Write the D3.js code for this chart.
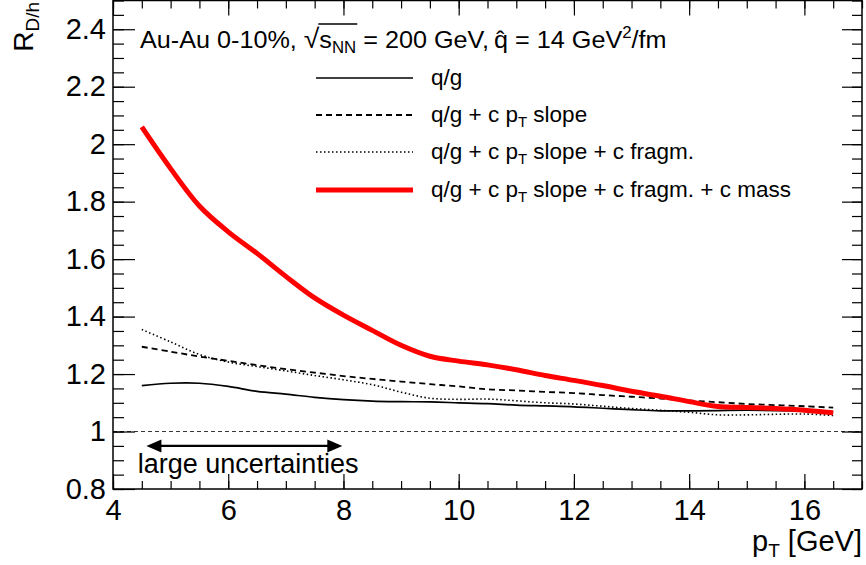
<!DOCTYPE html>
<html>
<head>
<meta charset="utf-8">
<script src="https://cdn.jsdelivr.net/npm/d3@7"></script>
<style>
  body { margin: 0; background: #fff; }
  svg { display: block; font-family: "Liberation Sans", Arial, Helvetica, sans-serif; }
  .axis path, .axis line { stroke: #000; }
</style>
</head>
<body>
<svg id="chart" width="866" height="565"></svg>
<script>
// ---- Dados
const pT = [4.5, 5, 5.5, 6, 6.5, 7, 7.5, 8, 8.5, 9, 9.5, 10, 10.5, 11, 11.5, 12, 12.5, 13, 13.5, 14, 14.5, 15, 15.5, 16, 16.5];
const rQG    = [1.160, 1.168, 1.168, 1.157, 1.140, 1.130, 1.119, 1.111, 1.106, 1.104, 1.103, 1.100, 1.097, 1.092, 1.089, 1.086, 1.081, 1.076, 1.072, 1.072, 1.073, 1.074, 1.073, 1.071, 1.066];
const rSlope = [1.295, 1.278, 1.261, 1.246, 1.231, 1.217, 1.205, 1.193, 1.183, 1.174, 1.165, 1.157, 1.147, 1.143, 1.138, 1.134, 1.127, 1.121, 1.115, 1.108, 1.102, 1.096, 1.092, 1.088, 1.083];
const rFragm = [1.355, 1.312, 1.268, 1.242, 1.226, 1.211, 1.195, 1.180, 1.163, 1.137, 1.116, 1.112, 1.113, 1.107, 1.100, 1.096, 1.088, 1.080, 1.074, 1.067, 1.058, 1.058, 1.060, 1.061, 1.056];
const rMass  = [2.060, 1.915, 1.785, 1.695, 1.620, 1.540, 1.465, 1.405, 1.352, 1.300, 1.262, 1.245, 1.232, 1.215, 1.195, 1.178, 1.160, 1.140, 1.123, 1.104, 1.087, 1.084, 1.080, 1.074, 1.065];

const xTicks = [4, 6, 8, 10, 12, 14, 16];
const yTicks = [0.8, 1, 1.2, 1.4, 1.6, 1.8, 2, 2.2, 2.4];
const legendLabels = ['q/g', 'q/g + c p_T slope', 'q/g + c p_T slope + c fragm.', 'q/g + c p_T slope + c fragm. + c mass'];
const arrowRange = [4.58, 7.98];

// ---- Margens / tamanho
const svg = d3.select('#chart');
const margens = { left: 113, right: 4, top: 0.5, bottom: 76 };
const W = 866, H = 565;

const mapX = d3.scaleLinear().domain([4, 17]).range([margens.left, W - margens.right]);
const mapY = d3.scaleLinear().domain([0.8, 2.5]).range([H - margens.bottom, margens.top]);

const fmt = d => String(+d.toFixed(1));

// ---- Eixos (ticks para dentro, estilo ROOT)
const minorX = d3.range(4, 17.001, 0.5);
const minorY = d3.range(0.8, 2.5001, 0.05);

svg.append('g').attr('class', 'axis')
    .attr('transform', `translate(0, ${mapY(0.8)})`)
    .call(d3.axisBottom(mapX).tickValues(minorX).tickSize(-8).tickFormat(''))
    .call(g => g.select('.domain').remove());
svg.append('g').attr('class', 'axis')
    .attr('transform', `translate(0, ${mapY(0.8)})`)
    .call(d3.axisBottom(mapX).tickValues(xTicks).tickSize(-15).tickPadding(10).tickFormat(fmt))
    .call(g => g.select('.domain').remove())
    .call(g => g.selectAll('text').attr('font-size', 29).attr('fill', '#000'));

svg.append('g').attr('class', 'axis')
    .attr('transform', `translate(0, ${mapY(2.5)})`)
    .call(d3.axisTop(mapX).tickValues(minorX).tickSize(-8).tickFormat(''))
    .call(g => g.select('.domain').remove());
svg.append('g').attr('class', 'axis')
    .attr('transform', `translate(0, ${mapY(2.5)})`)
    .call(d3.axisTop(mapX).tickValues(xTicks).tickSize(-15).tickFormat(''))
    .call(g => g.select('.domain').remove());

svg.append('g').attr('class', 'axis')
    .attr('transform', `translate(${mapX(4)}, 0)`)
    .call(d3.axisLeft(mapY).tickValues(minorY).tickSize(-11).tickFormat(''))
    .call(g => g.select('.domain').remove());
svg.append('g').attr('class', 'axis')
    .attr('transform', `translate(${mapX(4)}, 0)`)
    .call(d3.axisLeft(mapY).tickValues(yTicks).tickSize(-22).tickPadding(7).tickFormat(fmt))
    .call(g => g.select('.domain').remove())
    .call(g => g.selectAll('text').attr('font-size', 29).attr('fill', '#000'));

svg.append('g').attr('class', 'axis')
    .attr('transform', `translate(${mapX(17)}, 0)`)
    .call(d3.axisRight(mapY).tickValues(minorY).tickSize(-10).tickFormat(''))
    .call(g => g.select('.domain').remove());
svg.append('g').attr('class', 'axis')
    .attr('transform', `translate(${mapX(17)}, 0)`)
    .call(d3.axisRight(mapY).tickValues(yTicks).tickSize(-20).tickFormat(''))
    .call(g => g.select('.domain').remove());

svg.selectAll('.axis line').attr('stroke-width', 1.2);

// moldura
svg.append('rect')
    .attr('x', mapX(4)).attr('y', mapY(2.5))
    .attr('width', mapX(17) - mapX(4)).attr('height', mapY(0.8) - mapY(2.5))
    .attr('fill', 'none').attr('stroke', '#000').attr('stroke-width', 1.5);

// ---- Linha de referência em 1
svg.append('line')
    .attr('x1', mapX(4)).attr('x2', mapX(17))
    .attr('y1', mapY(1)).attr('y2', mapY(1))
    .attr('stroke', '#000').attr('stroke-width', 0.8).attr('stroke-dasharray', '4,3');

// ---- Curvas
const series = [
    { vals: rQG,    color: '#000', width: 1.7, dash: null },
    { vals: rSlope, color: '#000', width: 1.8, dash: '6,4' },
    { vals: rFragm, color: '#000', width: 1.6, dash: '1.5,2.5' },
    { vals: rMass,  color: '#ff0000', width: 5, dash: null }
];

const line = d3.line()
    .x((d, i) => mapX(pT[i]))
    .y(d => mapY(d))
    .curve(d3.curveCatmullRom.alpha(0.5));

svg.append('g').selectAll('path')
    .data(series)
    .join('path')
    .attr('d', s => line(s.vals))
    .attr('fill', 'none')
    .attr('stroke', s => s.color)
    .attr('stroke-width', s => s.width)
    .attr('stroke-dasharray', s => s.dash);

// ---- Legenda
const legY = [78, 115, 152, 190];
const leg = svg.append('g');
series.forEach((s, i) => {
    leg.append('line')
        .attr('x1', 316).attr('x2', 413)
        .attr('y1', legY[i]).attr('y2', legY[i])
        .attr('stroke', s.color).attr('stroke-width', s.width)
        .attr('stroke-dasharray', s.dash);

    const t = leg.append('text')
        .attr('x', 431).attr('y', legY[i] + 7)
        .attr('font-size', 22.5);
    const parts = legendLabels[i].split('p_T');
    t.append('tspan').text(parts[0]);
    if (parts.length > 1) {
        t.append('tspan').text('p');
        t.append('tspan').attr('font-size', 15).attr('dy', 5).text('T');
        t.append('tspan').attr('dy', -5).text(parts[1]);
    }
});

// ---- Título
const tg = svg.append('g').attr('transform', 'translate(140, 48) scale(1.05, 1)');
const title = tg.append('text').attr('x', 0).attr('y', 0).attr('font-size', 24);
title.append('tspan').text('Au-Au 0-10%, ');
title.append('tspan').attr('font-size', 27).text('√');
title.append('tspan').text('s');
title.append('tspan').attr('font-size', 16).attr('dy', 5).text('NN');
title.append('tspan').attr('dy', -5).text(' = 200 GeV,\u2009');
title.append('tspan').text('q\u0302');
title.append('tspan').text(' = 14 GeV');
title.append('tspan').attr('font-size', 16).attr('dy', -10).text('2');
title.append('tspan').attr('dy', 10).text('/fm');

// barra sobre s_NN
{
    const tNode = title.node();
    const a = tNode.getStartPositionOfChar(14);
    const b = tNode.getEndPositionOfChar(16);
    tg.append('line')
        .attr('x1', a.x - 1).attr('x2', b.x + 1)
        .attr('y1', -24).attr('y2', -24)
        .attr('stroke', '#000').attr('stroke-width', 1.3);
}

// ---- Títulos dos eixos
const xt = svg.append('text')
    .attr('x', W - 4).attr('y', 551)
    .attr('text-anchor', 'end').attr('font-size', 29);
xt.append('tspan').text('p');
xt.append('tspan').attr('font-size', 19).attr('dy', 6).text('T');
xt.append('tspan').attr('dy', -6).text(' [GeV]');

const yt = svg.append('text')
    .attr('transform', 'translate(33, 2) rotate(-90)')
    .attr('text-anchor', 'end').attr('font-size', 28);
yt.append('tspan').text('R');
yt.append('tspan').attr('font-size', 19).attr('dy', 6).text('D/h');

// ---- Seta "large uncertainties"
const ay = mapY(0.95);
const ax0 = mapX(arrowRange[0]), ax1 = mapX(arrowRange[1]);
svg.append('line')
    .attr('x1', ax0 + 8).attr('x2', ax1 - 8)
    .attr('y1', ay).attr('y2', ay)
    .attr('stroke', '#000').attr('stroke-width', 2.4);
svg.append('path')
    .attr('d', `M${ax0},${ay} l15,-6.5 l0,13 Z M${ax1},${ay} l-15,-6.5 l0,13 Z`)
    .attr('fill', '#000');

svg.append('text')
    .attr('x', mapX(4.43)).attr('y', mapY(0.857))
    .attr('font-size', 27)
    .text('large uncertainties');
</script>
</body>
</html>
